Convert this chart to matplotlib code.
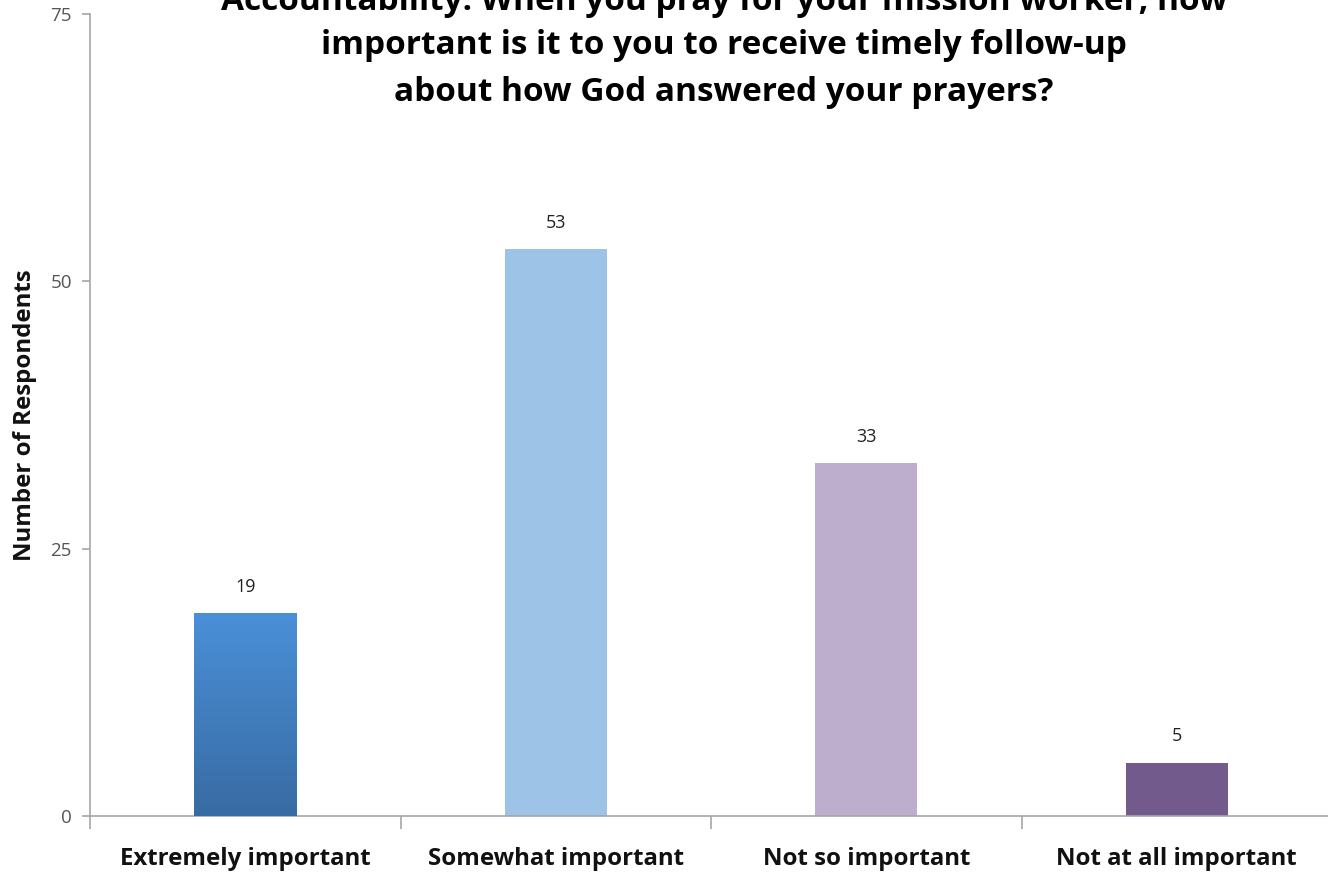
import matplotlib
matplotlib.use("Agg")
import matplotlib.pyplot as plt
import numpy as np
from matplotlib.colors import LinearSegmentedColormap

categories = ["Extremely important", "Somewhat important", "Not so important", "Not at all important"]
counts = [19, 53, 33, 5]
bar_colors = ["#4a8fd6", "#9dc3e6", "#bcaecc", "#735a8c"]
ytick_values = [0, 25, 50, 75]
title_lines = ["Accountability: When you pray for your mission worker, how",
               "important is it to you to receive timely follow-up",
               "about how God answered your prayers?"]
ylabel_text = "Number of Respondents"

plt.rcParams["font.family"] = ["Open Sans", "DejaVu Sans"]

W, H = 1328, 873
fig = plt.figure(figsize=(W / 100, H / 100), dpi=100)
ax = fig.add_axes([90 / W, 57 / H, 1242 / W, 802 / H])

x = np.arange(len(categories))
bars = ax.bar(x, counts, width=0.33, color=bar_colors, zorder=2)

# vertical gradient on the first bar
grad_cmap = LinearSegmentedColormap.from_list("g", ["#386ba3", "#4a90d8"])
b0 = bars[0]
bx, by = b0.get_x(), b0.get_y()
bw, bh = b0.get_width(), b0.get_height()
grad = np.linspace(0, 1, 256).reshape(-1, 1)
im = ax.imshow(grad, cmap=grad_cmap, origin="lower", aspect="auto",
               extent=[bx, bx + bw, by, by + bh], zorder=3)
im.set_clip_path(b0)

for xi, v in zip(x, counts):
    ax.text(xi, v + 1.6, str(v), ha="center", va="bottom", fontsize=13,
            color="#222222")

ax.set_xlim(-0.5, len(categories) - 0.5)
ax.set_ylim(0, 75)
ax.set_yticks(ytick_values)
ax.set_yticklabels([str(v) for v in ytick_values], fontsize=13.5, color="#555555")
ax.set_xticks(x)
ax.set_xticklabels(categories, fontsize=17.3, fontweight="bold", color="#111111")
ax.tick_params(axis="x", length=0, pad=22)
ax.set_xticks(np.arange(-0.5, len(categories) + 0.5, 1), minor=True)
ax.tick_params(axis="x", which="minor", length=9, color="#a6a6a6", width=1.2)
ax.tick_params(axis="y", length=6, color="#a6a6a6", width=1.2, pad=7)

for side in ("top", "right"):
    ax.spines[side].set_visible(False)
for side in ("left", "bottom"):
    ax.spines[side].set_color("#a6a6a6")
    ax.spines[side].set_linewidth(1.2)

ax.set_ylabel(ylabel_text, fontsize=17.3, fontweight="bold", color="#111111", labelpad=10)

for line, base_px in zip(title_lines, [10, 54, 101]):
    fig.text(724 / W, 1 - base_px / H, line, ha="center", va="baseline",
             fontsize=24, fontweight="bold", color="#000000")

fig.savefig("out.png", dpi=100, facecolor="white")
